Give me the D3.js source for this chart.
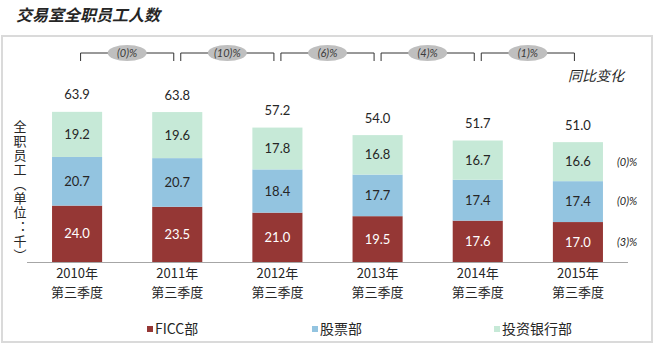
<!DOCTYPE html>
<html>
<head>
<meta charset="utf-8">
<script src="https://cdn.jsdelivr.net/npm/d3@7"></script>
<style>
  body { margin: 0; background: #fff; }
  svg text { font-family: Lato, "Noto Sans CJK SC", sans-serif; }
  .cjk { font-family: "Noto Sans CJK SC", sans-serif; }
</style>
</head>
<body>
<div id="chart"></div>
<script>
// chart data
var categories = ["2010年", "2011年", "2012年", "2013年", "2014年", "2015年"];
var subLabel = "第三季度";
var seriesNames = ["FICC部", "股票部", "投资银行部"];
var ficc = [24.0, 23.5, 21.0, 19.5, 17.6, 17.0];
var equities = [20.7, 20.7, 18.4, 17.7, 17.4, 17.4];
var ibd = [19.2, 19.6, 17.8, 16.8, 16.7, 16.6];
var totals = [63.9, 63.8, 57.2, 54.0, 51.7, 51.0];
var yoyLabels = ["(0)%", "(10)%", "(6)%", "(4)%", "(1)%"];
var seriesChange = ["(3)%", "(0)%", "(0)%"];

var colors = ["#953735", "#93c4e0", "#c6e9d7"];

var width = 656, height = 351;

var svg = d3.select("#chart").append("svg")
    .attr("width", width)
    .attr("height", height);

// title
svg.append("text")
    .attr("class", "cjk")
    .attr("x", 16)
    .attr("y", 21)
    .attr("font-size", 16)
    .attr("font-weight", "bold")
    .attr("font-style", "italic")
    .attr("fill", "#262626")
    .text("交易室全职员工人数");

// panel border
svg.append("rect")
    .attr("x", 2)
    .attr("y", 36)
    .attr("width", 650)
    .attr("height", 306)
    .attr("fill", "none")
    .attr("stroke", "#dadada")
    .attr("stroke-width", 2);

// scales
var x = d3.scaleBand()
    .domain(categories)
    .range([27, 628])
    .paddingInner(0.5)
    .paddingOuter(0.25);

var y = d3.scaleLinear()
    .domain([0, 70])
    .range([262, 97.5]);

// stack data
var rows = categories.map(function(c, i) {
    return { cat: c, ficc: ficc[i], equities: equities[i], ibd: ibd[i] };
});
var keys = ["ficc", "equities", "ibd"];
var stacked = d3.stack().keys(keys)(rows);

var layers = svg.selectAll(".layer")
    .data(stacked)
    .enter().append("g")
    .attr("class", "layer")
    .attr("fill", function(d, i) { return colors[i]; });

layers.selectAll("rect")
    .data(function(d) { return d; })
    .enter().append("rect")
    .attr("x", function(d) { return x(d.data.cat); })
    .attr("y", function(d) { return y(d[1]); })
    .attr("width", x.bandwidth())
    .attr("height", function(d) { return y(d[0]) - y(d[1]); });

// segment labels
stacked.forEach(function(layer, li) {
    svg.selectAll(".seg" + li)
        .data(layer)
        .enter().append("text")
        .attr("x", function(d) { return x(d.data.cat) + x.bandwidth() / 2; })
        .attr("y", function(d) { return (y(d[0]) + y(d[1])) / 2; })
        .attr("dy", "0.35em")
        .attr("text-anchor", "middle")
        .attr("font-size", 13)
        .attr("fill", li == 0 ? "#ffffff" : "#262626")
        .text(function(d) { return (d[1] - d[0]).toFixed(1); });
});

// totals
svg.selectAll(".total")
    .data(totals)
    .enter().append("text")
    .attr("x", function(d, i) { return x(categories[i]) + x.bandwidth() / 2; })
    .attr("y", function(d) { return y(d) - 17; })
    .attr("dy", "0.35em")
    .attr("text-anchor", "middle")
    .attr("font-size", 13)
    .attr("fill", "#262626")
    .text(function(d) { return d.toFixed(1); });

// x axis line
svg.append("line")
    .attr("x1", 27).attr("x2", 628)
    .attr("y1", y(0) + 0.5).attr("y2", y(0) + 0.5)
    .attr("stroke", "#a6a6a6")
    .attr("stroke-width", 1);

// category labels, two lines
var catLabels = svg.selectAll(".cat")
    .data(categories)
    .enter().append("g")
    .attr("transform", function(d) { return "translate(" + (x(d) + x.bandwidth() / 2) + ",0)"; });

catLabels.append("text")
    .attr("class", "cjk")
    .attr("y", 277.5)
    .attr("text-anchor", "middle")
    .attr("font-size", 13)
    .attr("fill", "#262626")
    .text(function(d) { return d; });

catLabels.append("text")
    .attr("class", "cjk")
    .attr("y", 296.5)
    .attr("text-anchor", "middle")
    .attr("font-size", 13)
    .attr("fill", "#262626")
    .text(subLabel);

// y axis title (vertical)
svg.append("text")
    .attr("class", "cjk")
    .attr("x", 20)
    .attr("y", 120)
    .attr("font-size", 13)
    .attr("fill", "#262626")
    .style("writing-mode", "vertical-rl")
    .style("letter-spacing", "1.3px")
    .text("全职员工（单位：千）");

// year-over-year brackets
var bracketY = 53, tickLen = 8;
var brackets = svg.selectAll(".bracket")
    .data(yoyLabels)
    .enter().append("g")
    .attr("class", "bracket");

brackets.append("path")
    .attr("fill", "none")
    .attr("stroke", "#333")
    .attr("stroke-width", 1)
    .attr("d", function(d, i) {
        var x0 = x(categories[i]) + x.bandwidth() / 2 + 3.5;
        var x1 = x(categories[i + 1]) + x.bandwidth() / 2 - 3.5;
        return "M" + x0 + "," + (bracketY + tickLen) + "V" + bracketY + "H" + x1 + "V" + (bracketY + tickLen);
    });

brackets.append("ellipse")
    .attr("cx", function(d, i) {
        return (x(categories[i]) + x(categories[i + 1])) / 2 + x.bandwidth() / 2;
    })
    .attr("cy", bracketY)
    .attr("rx", 19.5)
    .attr("ry", 8)
    .attr("fill", "#bfbfbf");

brackets.append("text")
    .attr("x", function(d, i) {
        return (x(categories[i]) + x(categories[i + 1])) / 2 + x.bandwidth() / 2;
    })
    .attr("y", bracketY)
    .attr("dy", "0.35em")
    .attr("text-anchor", "middle")
    .attr("font-size", 11)
    .attr("font-style", "italic")
    .attr("fill", "#3a3a3a")
    .text(function(d) { return d; });

svg.append("text")
    .attr("class", "cjk")
    .attr("x", 568)
    .attr("y", 81)
    .attr("font-size", 14)
    .attr("font-style", "italic")
    .attr("fill", "#262626")
    .text("同比变化");

// series change labels next to the last bar
var last = stacked.map(function(layer) { return layer[layer.length - 1]; });
svg.selectAll(".chg")
    .data(seriesChange)
    .enter().append("text")
    .attr("x", 617)
    .attr("y", function(d, i) { return (y(last[i][0]) + y(last[i][1])) / 2; })
    .attr("dy", "0.35em")
    .attr("font-size", 11)
    .attr("font-style", "italic")
    .attr("fill", "#262626")
    .text(function(d) { return d; });

// legend
var legendX = [147, 312, 494];
var legend = svg.selectAll(".legend")
    .data(seriesNames)
    .enter().append("g")
    .attr("transform", function(d, i) { return "translate(" + legendX[i] + ",329)"; });

legend.append("rect")
    .attr("x", 0)
    .attr("y", -3)
    .attr("width", 6)
    .attr("height", 6)
    .attr("fill", function(d, i) { return colors[i]; });

legend.append("text")
    .attr("class", "cjk")
    .attr("x", 8)
    .attr("dy", "0.35em")
    .attr("font-size", 14)
    .attr("fill", "#262626")
    .text(function(d) { return d; });
</script>
</body>
</html>
